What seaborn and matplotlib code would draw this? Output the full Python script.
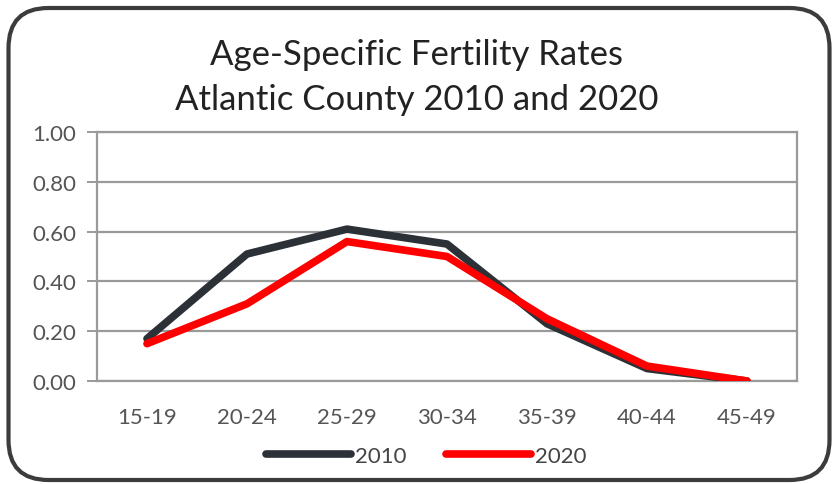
import matplotlib
matplotlib.use("Agg")
import matplotlib.pyplot as plt
from matplotlib.patches import FancyBboxPatch
from matplotlib.lines import Line2D
import seaborn as sns
import pandas as pd

# Age groups and fertility rates for each census year
age_groups = ["15-19", "20-24", "25-29", "30-34", "35-39", "40-44", "45-49"]
rates_2010 = [0.17, 0.51, 0.61, 0.55, 0.23, 0.05, 0.00]
rates_2020 = [0.15, 0.31, 0.56, 0.50, 0.25, 0.06, 0.00]
years = ["2010", "2020"]
y_ticks = [0.0, 0.2, 0.4, 0.6, 0.8, 1.0]

df = pd.DataFrame({
    "Age group": age_groups * 2,
    "Rate": rates_2010 + rates_2020,
    "Year": [years[0]] * len(age_groups) + [years[1]] * len(age_groups),
})

sns.set_theme(style="white")
plt.rcParams["font.family"] = ["Lato", "DejaVu Sans"]

fig = plt.figure(figsize=(8.33, 4.85), dpi=100)
fig.patch.set_facecolor("white")
ax = fig.add_axes([97 / 833, 1 - 382 / 485, 700 / 833, 249 / 485])

palette = {"2010": "#2b3136", "2020": "#ff0000"}
sns.lineplot(data=df, x="Age group", y="Rate", hue="Year", palette=palette,
             linewidth=5.5, sort=False, ax=ax, legend=False,
             solid_capstyle="round", solid_joinstyle="round", zorder=3)

ax.set_xlim(-0.5, len(age_groups) - 0.5)
ax.set_ylim(0, 1.0)
ax.set_yticks(y_ticks)
ax.set_yticklabels([f"{v:.2f}" for v in y_ticks])
ax.set_xlabel("")
ax.set_ylabel("")

grid_col = "#9a9a9a"
ax.yaxis.grid(True, color=grid_col, linewidth=1.6)
ax.xaxis.grid(False)
ax.set_axisbelow(True)
for side in ["left", "right", "top", "bottom"]:
    ax.spines[side].set_visible(True)
    ax.spines[side].set_color(grid_col)
    ax.spines[side].set_linewidth(1.6)

ax.tick_params(axis="y", which="major", left=True, length=7, width=1.4,
               color=grid_col, labelsize=16, labelcolor="#555555", pad=8)
ax.tick_params(axis="x", which="major", bottom=False, labelsize=16,
               labelcolor="#555555", pad=13)

# Chart title
fig.text(0.5, 1 - 55 / 485, "Age-Specific Fertility Rates", ha="center",
         va="center", fontsize=25, color="#222222")
fig.text(0.5, 1 - 100 / 485, "Atlantic County 2010 and 2020", ha="center",
         va="center", fontsize=25, color="#222222")

# Legend below the axis labels
handles = [Line2D([0], [0], color=palette[y], linewidth=5.5,
                  solid_capstyle="round") for y in years]
fig.legend(handles, years, loc="center", bbox_to_anchor=(0.512, 1 - 457 / 485),
           ncol=2, frameon=False, fontsize=16, handlelength=3.8,
           handletextpad=0.2, columnspacing=1.8, labelcolor="#444444")

# Rounded frame around the whole chart
frame = FancyBboxPatch((0.085, 0.04), 8.21, 4.72,
                       boxstyle="round,pad=0,rounding_size=0.4",
                       transform=fig.dpi_scale_trans, fill=False,
                       edgecolor="#3c3c3c", linewidth=3.0)
fig.patches.append(frame)

fig.savefig("out.png", dpi=100, facecolor="white")
